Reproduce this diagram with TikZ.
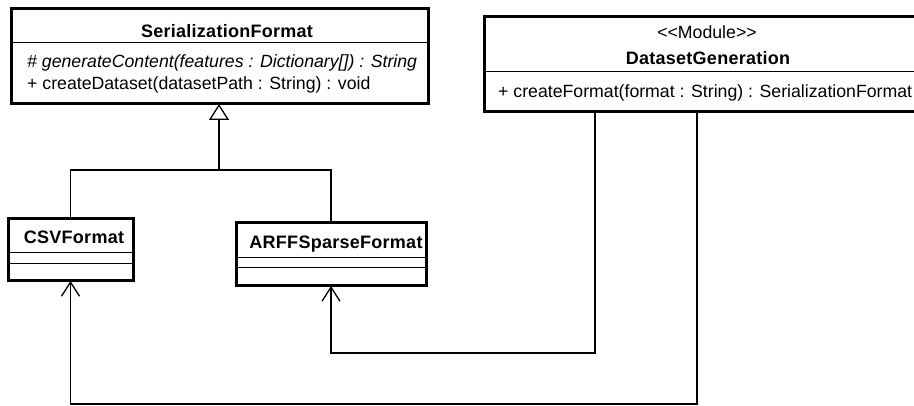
\documentclass[tikz,border=0pt]{standalone}
\usepackage{fontspec}
\setmainfont{Liberation Sans}
\newfontfamily\headfont{Liberation Sans}[LetterSpace=1.5]
\usetikzlibrary{arrows.meta}
\begin{document}
\begin{tikzpicture}[x=1pt,y=-1pt,
  classbox/.style={draw=black,line width=3pt,rectangle,outer sep=0pt,inner sep=0pt,fill=white},
  sepline/.style={draw=black,line width=1pt},
  txt/.style={inner sep=0pt,font=\fontsize{17.7}{20}\selectfont},
  btxt/.style={inner sep=0pt,font=\fontsize{18}{20}\selectfont\headfont\bfseries},
  conn/.style={draw=black,line width=1.3pt},
  gen/.style={conn,-{Triangle[open,length=16pt,width=20pt,fill=white]}},
  nav/.style={conn,-{Straight Barb[length=14pt,width=18pt]}}]
\useasboundingbox (0,0) rectangle (914,406);
\clip (0,0) rectangle (914,406);

% class boxes
\node[classbox,minimum width=417pt,minimum height=95pt] (sf) at (219.5,56.5) {};
\node[classbox,minimum width=125pt,minimum height=62pt] (csv) at (70.5,250) {};
\node[classbox,minimum width=190pt,minimum height=63pt] (arff) at (331,254.5) {};
\node[classbox,minimum width=448pt,minimum height=95pt] (dg) at (708,64.5) {};

% compartment separators
\draw[sepline] (sf.west |- 0,43) -- (sf.east |- 0,43);
\draw[sepline] (csv.west |- 0,253) -- (csv.east |- 0,253);
\draw[sepline] (csv.west |- 0,264) -- (csv.east |- 0,264);
\draw[sepline] (arff.west |- 0,258) -- (arff.east |- 0,258);
\draw[sepline] (arff.west |- 0,268) -- (arff.east |- 0,268);
\draw[sepline] (dg.west |- 0,72) -- (dg.east |- 0,72);

% SerializationFormat
\node[btxt,anchor=base] (sfname) at (227,38) {SerializationFormat};
\node[txt,anchor=base west] (sfm1) at (27,68) {\itshape \# generateContent(features : Dictionary[]) : String};
\node[txt,anchor=base west] (sfm2) at (27,90) {+ createDataset(datasetPath : String) : void};

% subclasses
\node[btxt,anchor=base] (csvname) at (74,244) {CSVFormat};
\node[btxt,anchor=base] (arffname) at (336,249) {ARFFSparseFormat};

% DatasetGeneration module
\node[txt,anchor=base] (dgst) at (707,39) {{<}{<}Module{>}{>}};
\node[btxt,anchor=base] (dgname) at (708,65) {DatasetGeneration};
\node[txt,anchor=base west] (dgm1) at (498,98) {+ createFormat(format : String) : SerializationFormat};

% generalization
\coordinate (j) at (219,170);
\draw[conn] (csv.north) |- (j) -| (arff.north);
\draw[gen] (j) -- (sf.south -| j);

% dependencies from DatasetGeneration
\draw[nav] ([xshift=111pt]dg.south west) -- ++(0,241) -| (arff.south);
\draw[nav] ([xshift=213pt]dg.south west) -- ++(0,292) -| (csv.south);
\end{tikzpicture}
\end{document}
